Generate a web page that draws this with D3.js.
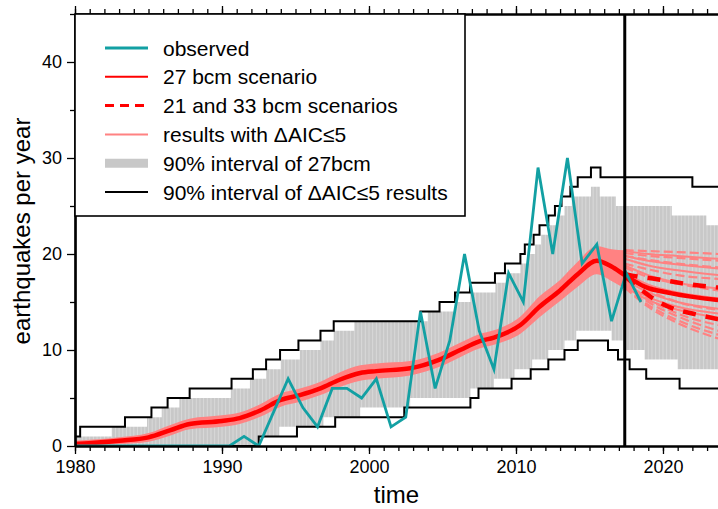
<!DOCTYPE html>
<html>
<head>
<meta charset="utf-8">
<script src="https://cdn.jsdelivr.net/npm/d3@7"></script>
<style>
  body { margin: 0; background: #fff; }
  svg { display: block; font-family: "Liberation Sans", Arial, sans-serif; }
</style>
</head>
<body>
<div id="chart"></div>
<script>
// observed yearly counts (plotted at mid-year)
const obsYears  = [1979.5,1980.5,1981.5,1982.5,1983.5,1984.5,1985.5,1986.5,1987.5,1988.5,1989.5,1990.5,1991.5,1992.5,1993.5,1994.5,1995.5,1996.5,1997.5,1998.5,1999.5,2000.5,2001.5,2002.5,2003.5,2004.5,2005.5,2006.5,2007.5,2008.5,2009.5,2010.5,2011.5,2012.5,2013.5,2014.5,2015.5,2016.5,2017.5,2018.5];
const obsCounts = [0,0,0,0,0,0,0,0,0,0,0,0,1,0,3.5,7,4,2,6,6,5,7,2,3,14,6,11,20,12,8,18,15,29,20,30,19,21,13,18,15];

// 27 bcm scenario (thick red)
const rateYears = [1980,1983,1985,1986.5,1987.8,1990,1991.2,1992.6,1994,1995.3,1996.7,1998,1999.4,2000.5,2002.8,2004.8,2006.2,2007.5,2008.5,2010.3,2011.6,2013,2014.2,2015.5,2016.5,2017.4,2018.75,2020.6,2023.75];
const rate27    = [0.2,0.55,0.9,1.65,2.3,2.6,2.9,3.7,4.8,5.3,6.0,6.9,7.6,7.8,8.1,9.0,10.0,10.9,11.3,12.6,14.5,16.2,17.9,19.3,18.7,17.8,16.6,15.9,15.2];

// spread of the dAIC<=5 results before the forecast start
const spreadYears = [1980,1983,1985,1986.5,1987.8,1990,1991.2,1992.6,1994,1995.3,1996.7,1998,1999.4,2000.5,2002.8,2004.8,2006.2,2007.5,2008.5,2010.3,2011.6,2013,2014.2,2015.5,2016.5,2017.4];
const spreadLow   = [0.0,0.2,0.45,1.1,1.75,2.0,2.3,3.05,4.1,4.6,5.3,6.15,6.8,7.0,7.35,8.25,9.25,10.15,10.55,11.7,13.4,15.1,16.6,17.9,17.2,16.4];
const spreadHigh  = [0.55,0.9,1.35,2.2,2.85,3.2,3.5,4.35,5.5,6.0,6.7,7.65,8.4,8.6,8.85,9.75,10.75,11.65,12.05,13.5,15.6,17.3,19.2,20.8,20.5,20.4];

// 21 and 33 bcm scenarios (thick red dashed)
const scenYears = [2017.4,2018.5,2019.5,2020.7,2022,2023.75];
const rate33    = [17.9,17.6,17.4,17.1,16.8,16.5];
const rate21    = [17.7,16.3,15.2,14.3,13.8,13.2];

// dAIC<=5 results after the forecast start
const fanYears = [2017.4,2019,2021,2023.75];
const fanSolid = [
  [20.3,20.0,19.8,19.5],
  [19.8,19.3,18.9,18.5],
  [19.5,18.8,18.3,17.8],
  [18.8,17.8,17.0,16.4],
  [18.0,16.8,16.0,15.4],
  [17.3,16.0,15.0,14.3],
  [16.9,15.5,14.5,13.8],
  [16.6,15.2,14.2,13.4]
];
const fanDashed = [
  [20.4,20.3,20.2,20.0],
  [20.1,19.8,19.6,19.3],
  [19.8,19.4,19.0,18.6],
  [19.0,18.4,17.8,17.4],
  [18.6,17.6,16.9,16.2],
  [18.2,16.3,15.0,14.2],
  [17.2,15.3,13.8,12.6],
  [16.8,15.0,13.5,12.0],
  [16.6,14.7,13.1,11.6],
  [16.5,14.5,12.8,11.2]
];

// 90% interval of 27bcm (steps)
const grayTopT = [1980,1982.5,1984.9,1985.9,1987.1,1990.6,1991.9,1993.0,1994.0,1995.3,1996.7,1997.6,1999.0,2004.0,2005.9,2006.9,2008.6,2009.3,2010.3,2010.9,2011.3,2011.7,2012.3,2012.8,2013.3,2013.8,2015.1,2015.7,2016.8,2020.6,2022.95,2024];
const grayTopV = [1,2,3,4,5,6,7,8,9,10,11,12,13,14,15,16,17,18,19,20,21,22,23,24,25,26,27,26,25,24,23,23];
const grayBotT = [1980,1992.5,1993.9,1996.9,1999.4,2002.8,2006.9,2008.5,2009.9,2011.1,2012.2,2013.3,2014.1,2016.5,2017.3,2018.75,2021.0,2024];
const grayBotV = [0,1,2,3,4,5,6,7,8,9,10,11,12,11,10,9,8,8];

// 90% interval of dAIC<=5 results (black steps)
const blackTopT = [1980,1980.35,1983.4,1985.2,1986.3,1987.8,1990.65,1992.1,1993.0,1993.95,1995.2,1996.7,1997.6,2003.5,2004.8,2005.85,2006.87,2008.57,2009.25,2010.3,2010.6,2011.2,2011.6,2012.2,2012.65,2013.1,2013.7,2014.2,2015.1,2015.75,2022.0,2024];
const blackTopV = [1,2,3,4,5,6,7,8,9,10,11,12,13,14,15,16,17,18,19,20,21,22,23,24,25,26,27,28,29,28,27,27];
const blackBotT = [1980,1992.5,1995.1,1997.7,2002.4,2006.9,2007.45,2009.7,2011.0,2012.2,2013.3,2014.2,2016.26,2016.94,2017.73,2018.86,2021.13,2024];
const blackBotV = [0,1,2,3,4,5,6,7,8,9,10,11,10,9,8,7,6,6];

const forecastStart = 2017.4;

const legendItems = [
  {label: "observed", kind: "obs"},
  {label: "27 bcm scenario", kind: "red"},
  {label: "21 and 33 bcm scenarios", kind: "reddash"},
  {label: "results with \u0394AIC\u22645", kind: "pink"},
  {label: "90% interval of 27bcm", kind: "gray"},
  {label: "90% interval of \u0394AIC\u22645 results", kind: "black"}
];

const W = 718, H = 509;
const margin = {top: 14, left: 75, bottom: 63};
const colors = {obs: "#12a0a3", red: "#ff0000", pink: "#ff8282", gray: "#c8c8c8", black: "#000"};

const svg = d3.select("#chart").append("svg").attr("width", W).attr("height", H);

const x = d3.scaleLinear().domain([1980, 2023.75]).range([margin.left, 718.1]);
const y = d3.scaleLinear().domain([0, 45]).range([H - margin.bottom, margin.top]);

svg.append("defs").append("clipPath").attr("id", "plotClip")
  .append("rect")
  .attr("x", x(1980)).attr("y", y(45))
  .attr("width", W - x(1980)).attr("height", y(0) - y(45));

const plot = svg.append("g").attr("clip-path", "url(#plotClip)");

const pairs = (ts, vs) => ts.map((t, i) => [t, vs[i]]);

// gray interval: fill up to top, then blank out below bottom
const stepArea = d3.area().curve(d3.curveStepAfter)
  .x(d => x(d[0])).y0(y(0)).y1(d => y(d[1]));
plot.append("path").datum(pairs(grayTopT, grayTopV))
  .attr("d", stepArea).attr("fill", colors.gray);
// thin light stripes inside the gray band
plot.append("g").selectAll("line")
  .data(d3.range(1980, 2024, 0.25))
  .enter().append("line")
  .attr("x1", d => x(d)).attr("x2", d => x(d))
  .attr("y1", y(45)).attr("y2", y(0))
  .attr("stroke", "#fff").attr("stroke-width", 0.7).attr("stroke-opacity", 0.45);
plot.append("path").datum(pairs(grayBotT, grayBotV))
  .attr("d", stepArea).attr("fill", "#fff");

// spread of dAIC<=5 results before forecast
plot.append("path")
  .datum(spreadYears.map((t, i) => ({t: t, lo: spreadLow[i], hi: spreadHigh[i]})))
  .attr("d", d3.area().curve(d3.curveMonotoneX)
    .x(d => x(d.t)).y0(d => y(d.lo)).y1(d => y(d.hi)))
  .attr("fill", colors.pink);

const smooth = d3.line().curve(d3.curveMonotoneX).x(d => x(d[0])).y(d => y(d[1]));

// fan of results after forecast start
fanSolid.forEach(vals => {
  plot.append("path").datum(pairs(fanYears, vals))
    .attr("d", smooth).attr("fill", "none")
    .attr("stroke", colors.pink).attr("stroke-width", 2);
});
fanDashed.forEach(vals => {
  plot.append("path").datum(pairs(fanYears, vals))
    .attr("d", smooth).attr("fill", "none")
    .attr("stroke", colors.pink).attr("stroke-width", 2.2)
    .attr("stroke-dasharray", "9,4");
});

// black step lines
const stepLine = d3.line().curve(d3.curveStepAfter).x(d => x(d[0])).y(d => y(d[1]));
[[blackTopT, blackTopV], [blackBotT, blackBotV]].forEach(([ts, vs]) => {
  plot.append("path").datum(pairs(ts, vs))
    .attr("d", stepLine).attr("fill", "none")
    .attr("stroke", colors.black).attr("stroke-width", 2);
});

// scenarios
plot.append("path").datum(pairs(rateYears, rate27))
  .attr("d", smooth).attr("fill", "none")
  .attr("stroke", colors.red).attr("stroke-width", 4.5);
[rate33, rate21].forEach(vals => {
  plot.append("path").datum(pairs(scenYears, vals))
    .attr("d", smooth).attr("fill", "none")
    .attr("stroke", colors.red).attr("stroke-width", 4.5)
    .attr("stroke-dasharray", "13,10");
});

// observed
plot.append("path").datum(pairs(obsYears, obsCounts))
  .attr("d", d3.line().x(d => x(d[0])).y(d => y(d[1])))
  .attr("fill", "none").attr("stroke", colors.obs).attr("stroke-width", 2.8)
  .attr("stroke-linejoin", "miter");

// forecast start
plot.append("line")
  .attr("x1", x(forecastStart)).attr("x2", x(forecastStart))
  .attr("y1", y(45)).attr("y2", y(0))
  .attr("stroke", "#000").attr("stroke-width", 3);

// axes
const majorX = d3.range(1980, 2021, 10);
const minorX = d3.range(1980, 2024, 1);
const majorY = d3.range(0, 41, 10);
const minorY = d3.range(5, 46, 10);

function styleAxis(g) {
  g.select(".domain").attr("stroke-width", 2.2);
  g.selectAll(".tick line").attr("stroke-width", 1.3);
  g.selectAll(".tick text").attr("font-size", 18).attr("fill", "#000")
    .attr("font-family", "Liberation Sans, Arial, sans-serif");
}

svg.append("g").attr("transform", `translate(0,${y(0)})`)
  .call(d3.axisBottom(x).tickValues(minorX).tickSize(5).tickFormat("").tickSizeOuter(0))
  .call(styleAxis);
svg.append("g").attr("transform", `translate(0,${y(0)})`)
  .call(d3.axisBottom(x).tickValues(majorX).tickSize(8).tickPadding(6).tickFormat(d3.format("d")).tickSizeOuter(0))
  .call(styleAxis);
svg.append("g").attr("transform", `translate(0,${y(45)})`)
  .call(d3.axisTop(x).tickValues(minorX).tickSize(5).tickFormat("").tickSizeOuter(0))
  .call(styleAxis);
svg.append("g").attr("transform", `translate(0,${y(45)})`)
  .call(d3.axisTop(x).tickValues(majorX).tickSize(8).tickFormat("").tickSizeOuter(0))
  .call(styleAxis);
svg.append("g").attr("transform", `translate(${x(1980)},0)`)
  .call(d3.axisLeft(y).tickValues(minorY).tickSize(5).tickFormat("").tickSizeOuter(0))
  .call(styleAxis);
svg.append("g").attr("transform", `translate(${x(1980)},0)`)
  .call(d3.axisLeft(y).tickValues(majorY).tickSize(8).tickPadding(5).tickFormat(d3.format("d")).tickSizeOuter(0))
  .call(styleAxis);

// axis titles
svg.append("text")
  .attr("transform", `translate(30,${(y(0) + y(45)) / 2 + 1}) rotate(-90)`)
  .attr("text-anchor", "middle").attr("font-size", 24)
  .text("earthquakes per year");
svg.append("text")
  .attr("x", (x(1980) + W) / 2).attr("y", 503)
  .attr("text-anchor", "middle").attr("font-size", 24)
  .text("time");

// legend
const legend = svg.append("g");
legend.append("rect")
  .attr("x", x(1980)).attr("y", y(45))
  .attr("width", 390).attr("height", 202)
  .attr("fill", "#fff").attr("stroke", "#000").attr("stroke-width", 1.6);

const rowY = i => 48 + i * 28.8;
legendItems.forEach((item, i) => {
  const ly = rowY(i);
  const ln = legend.append("line")
    .attr("x1", 105).attr("x2", 148).attr("y1", ly).attr("y2", ly);
  if (item.kind === "obs") ln.attr("stroke", colors.obs).attr("stroke-width", 3);
  if (item.kind === "red") ln.attr("stroke", colors.red).attr("stroke-width", 2);
  if (item.kind === "reddash") ln.attr("stroke", colors.red).attr("stroke-width", 3).attr("stroke-dasharray", "9,6");
  if (item.kind === "pink") ln.attr("stroke", colors.pink).attr("stroke-width", 2);
  if (item.kind === "gray") ln.attr("stroke", colors.gray).attr("stroke-width", 9);
  if (item.kind === "black") ln.attr("stroke", colors.black).attr("stroke-width", 2);
  legend.append("text")
    .attr("x", 163).attr("y", ly + 7.5)
    .attr("font-size", 21)
    .text(item.label);
});
</script>
</body>
</html>
